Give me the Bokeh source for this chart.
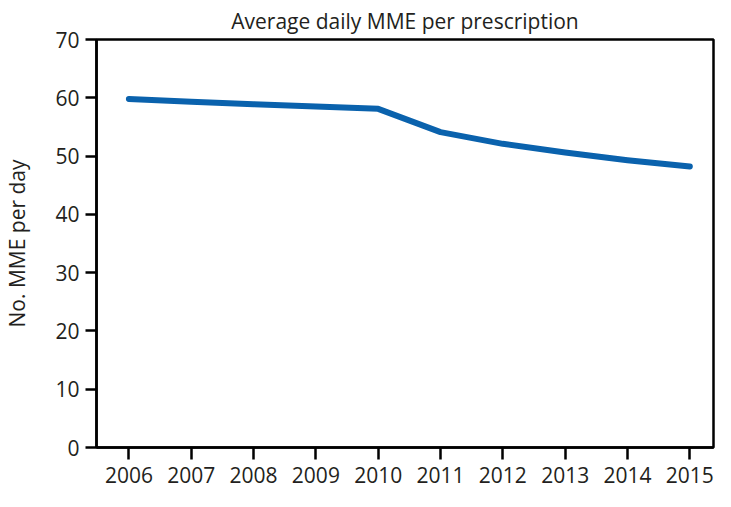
from bokeh.plotting import figure
from bokeh.models import Range1d, FixedTicker
from bokeh.embed import file_html
from bokeh.resources import INLINE

years = [2006, 2007, 2008, 2009, 2010, 2011, 2012, 2013, 2014, 2015]
mme = [59.8, 59.3, 58.9, 58.5, 58.1, 54.1, 52.1, 50.6, 49.3, 48.2]
y_ticks = [0, 10, 20, 30, 40, 50, 60, 70]

FONT = "Open Sans"
TXT = "#231f20"

p = figure(width=715, height=491, output_backend="svg", toolbar_location=None,
           x_range=Range1d(2005.48, 2015.38), y_range=Range1d(0, 70),
           min_border_left=89, min_border_right=2, min_border_top=31, min_border_bottom=44,
           title="Average daily MME per prescription")

p.line(years, mme, line_color="#0a62ad", line_width=6, line_cap="round", line_join="round")

p.title.text_font = FONT
p.title.text_font_size = "21px"
p.title.text_font_style = "normal"
p.title.text_color = TXT
p.title.align = "center"
p.title.standoff = 9

p.grid.visible = False
p.background_fill_color = "white"
p.border_fill_color = "white"
p.outline_line_color = "black"
p.outline_line_width = 2.5

for ax in (p.xaxis[0], p.yaxis[0]):
    ax.axis_line_color = "black"
    ax.axis_line_width = 2.5
    ax.major_tick_line_color = "black"
    ax.major_tick_line_width = 2.5
    ax.major_tick_in = 0
    ax.minor_tick_line_color = None
    ax.major_label_text_font = FONT
    ax.major_label_text_font_size = "21px"
    ax.major_label_text_color = TXT

p.xaxis.ticker = FixedTicker(ticks=years)
p.xaxis.major_tick_out = 12
p.xaxis.major_label_standoff = 7

p.yaxis.ticker = FixedTicker(ticks=y_ticks)
p.yaxis.major_tick_out = 11
p.yaxis.major_label_standoff = 6
p.yaxis.axis_label = "No. MME per day"
p.yaxis.axis_label_text_font = FONT
p.yaxis.axis_label_text_font_size = "21px"
p.yaxis.axis_label_text_font_style = "normal"
p.yaxis.axis_label_text_color = TXT
p.yaxis.axis_label_standoff = 21

open("out.html", "w").write(file_html(p, INLINE))
